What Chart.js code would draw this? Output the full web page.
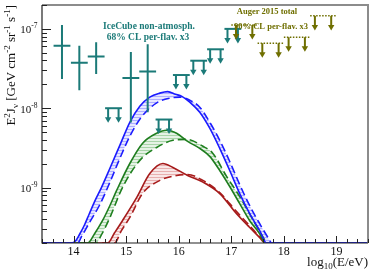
<!DOCTYPE html>
<html>
<head>
<meta charset="utf-8">
<script src="https://cdn.jsdelivr.net/npm/chart.js@4.4.1/dist/chart.umd.min.js"></script>
<style>
  html, body { margin: 0; padding: 0; background: #fff; }
  #wrap { width: 374px; height: 278px; position: relative; }
</style>
</head>
<body>
<div id="wrap"><canvas id="c"></canvas></div>
<script>
// axis ranges: x = log10(E/eV), y = E^2 J [GeV cm^-2 sr^-1 s^-1]
const xMin = 13.4, xMax = 19.6;
const yMin = 2e-10, yMax = 2e-7;

// model curves (solid / dashed pairs)
const blueSolidX = [13.4, 13.96, 14.04, 14.11, 14.21, 14.3, 14.4, 14.53, 14.69, 14.88, 15.07, 15.26, 15.45, 15.64, 15.79, 15.94, 16.06, 16.21, 16.4, 16.59, 16.78, 16.97, 17.16, 17.35, 17.54, 17.67, 19.6];
const blueSolidY = [2e-10, 2e-10, 2.13e-10, 2.54e-10, 3.4e-10, 4.68e-10, 6.65e-10, 1.0e-9, 1.74e-9, 3.4e-9, 6.65e-9, 1.06e-8, 1.38e-8, 1.55e-8, 1.62e-8, 1.5e-8, 1.41e-8, 1.19e-8, 8.9e-9, 5.6e-9, 3.12e-9, 1.64e-9, 8.4e-10, 4.68e-10, 2.86e-10, 2e-10, 2e-10];
const blueDashX = [13.4, 14.08, 14.15, 14.3, 14.5, 14.69, 14.88, 15.07, 15.26, 15.45, 15.64, 15.83, 16.02, 16.21, 16.4, 16.59, 16.78, 16.97, 17.16, 17.35, 17.54, 17.7, 17.77, 19.6];
const blueDashY = [2e-10, 2e-10, 2.4e-10, 3.6e-10, 6.1e-10, 1.16e-9, 2.33e-9, 4.43e-9, 7.26e-9, 1.0e-8, 1.23e-8, 1.34e-8, 1.38e-8, 1.26e-8, 1.03e-8, 6.65e-9, 3.94e-9, 2.13e-9, 1.09e-9, 5.9e-10, 3.5e-10, 2.33e-10, 2e-10, 2e-10];

const greenSolidX = [13.4, 14.27, 14.4, 14.55, 14.69, 14.82, 15.07, 15.31, 15.58, 15.77, 15.96, 16.17, 16.4, 16.59, 16.78, 16.97, 17.16, 17.35, 17.54, 17.64, 19.6];
const greenSolidY = [2e-10, 2e-10, 2.62e-10, 3.82e-10, 5.9e-10, 9.2e-10, 2.01e-9, 3.6e-9, 4.83e-9, 5.27e-9, 4.83e-9, 3.82e-9, 3.12e-9, 2.47e-9, 1.64e-9, 1.03e-9, 6.27e-10, 3.82e-10, 2.62e-10, 2e-10, 2e-10];
const greenDashX = [13.4, 14.42, 14.55, 14.69, 14.93, 15.26, 15.58, 15.89, 16.15, 16.46, 16.65, 16.91, 17.16, 17.41, 17.6, 17.68, 19.6];
const greenDashY = [2e-10, 2e-10, 2.69e-10, 4.17e-10, 1.0e-9, 2.2e-9, 3.2e-9, 3.94e-9, 4.05e-9, 3.31e-9, 2.69e-9, 1.38e-9, 7.7e-10, 3.94e-10, 2.4e-10, 2e-10, 2e-10];

const redSolidX = [13.4, 14.65, 14.78, 14.93, 15.2, 15.45, 15.7, 15.89, 16.17, 16.46, 16.78, 17.1, 17.35, 17.54, 17.64, 19.6];
const redSolidY = [2e-10, 2e-10, 2.69e-10, 3.82e-10, 7.46e-10, 1.5e-9, 2.01e-9, 1.79e-9, 1.42e-9, 1.17e-9, 8.4e-10, 4.68e-10, 3.14e-10, 2.34e-10, 2e-10, 2e-10];
const redDashX = [13.4, 14.78, 14.91, 15.07, 15.31, 15.64, 15.96, 16.17, 16.46, 16.78, 17.1, 17.35, 17.54, 17.7, 19.6];
const redDashY = [2e-10, 2e-10, 2.86e-10, 4.2e-10, 8.4e-10, 1.23e-9, 1.42e-9, 1.46e-9, 1.23e-9, 8.65e-10, 4.97e-10, 3.31e-10, 2.4e-10, 2e-10, 2e-10];

// IceCube non-atmospheric flux points (centre, error bar ends)
const icX = [13.78, 14.11, 14.43, 15.09, 15.41];
const icY = [6.15e-8, 3.74e-8, 4.47e-8, 2.4e-8, 2.9e-8];
const icLo = [2.33e-8, 1.69e-8, 2.69e-8, 6.6e-9, 8.9e-9];
const icHi = [1.12e-7, 6.15e-8, 6.79e-8, 5.1e-8, 6.4e-8];
const icHalf = 0.16;

// IceCube 68% CL upper limits
const icLimX = [14.76, 15.72, 16.05, 16.38, 16.7, 17.03];
const icLimY = [1.0e-8, 7.2e-9, 2.62e-8, 3.97e-8, 5.53e-8, 1.0e-7];

// Auger 2015 90% CL upper limits
const augX = [17.25, 17.75, 18.25, 18.75];
const augY = [1.12e-7, 6.6e-8, 7.85e-8, 1.46e-7];
const augHalf = 0.25;

const xTicks = [14, 15, 16, 17, 18, 19];
const yTicks = [-9, -8, -7];

const BLUE = '#1a1aff', GREEN = '#1e7d1e', RED = '#a51a1a';
const TEAL = '#1b7a78', OLIVE = '#6f6f00';
const SERIF = '"Liberation Serif", "DejaVu Serif", serif';

function hatch(r, g, b) {
  const c = document.createElement('canvas');
  c.width = 4; c.height = 3;
  const x = c.getContext('2d');
  x.fillStyle = `rgba(${r},${g},${b},0.12)`;
  x.fillRect(0, 0, 4, 3);
  x.fillStyle = `rgba(${r},${g},${b},0.32)`;
  x.fillRect(0, 0, 4, 1);
  return x.createPattern(c, 'repeat');
}

const pts = (xs, ys) => xs.map((x, i) => ({ x: x, y: ys[i] }));

function curve(label, xs, ys, color, dashed, bg) {
  return {
    label: label,
    data: pts(xs, ys),
    borderColor: color,
    borderWidth: 1.6,
    borderDash: dashed ? [8, 4] : [],
    pointRadius: 0,
    cubicInterpolationMode: 'monotone',
    fill: bg ? '+1' : false,
    backgroundColor: bg || 'transparent'
  };
}

// text with sub/superscripts: parts = [{t, s, dy}]
function richWidth(ctx, parts, bold) {
  let w = 0;
  parts.forEach(p => { ctx.font = (bold ? 'bold ' : '') + p.s + 'px ' + SERIF; w += ctx.measureText(p.t).width; });
  return w;
}
function drawRich(ctx, parts, x, y, bold) {
  parts.forEach(p => {
    ctx.font = (bold ? 'bold ' : '') + p.s + 'px ' + SERIF;
    ctx.fillText(p.t, x, y + (p.dy || 0));
    x += ctx.measureText(p.t).width;
  });
}

function arrowDown(ctx, px, y0, y1, color) {
  ctx.strokeStyle = color; ctx.fillStyle = color;
  ctx.lineWidth = 2; ctx.setLineDash([]);
  ctx.beginPath(); ctx.moveTo(px, y0); ctx.lineTo(px, y1 - 4); ctx.stroke();
  ctx.beginPath(); ctx.moveTo(px - 3.2, y1 - 5); ctx.lineTo(px + 3.2, y1 - 5); ctx.lineTo(px, y1 + 0.5); ctx.closePath(); ctx.fill();
}

function drawLimits(ctx, xs, ys, xsArr, ysArr, half, color, dotted) {
  const drop = Math.pow(10, -0.177);
  xsArr.forEach((xc, i) => {
    const x0 = xs.getPixelForValue(xc - half), x1 = xs.getPixelForValue(xc + half);
    const py = ys.getPixelForValue(ysArr[i]);
    const pt = ys.getPixelForValue(ysArr[i] * drop);
    ctx.strokeStyle = color; ctx.lineWidth = dotted ? 1.5 : 2;
    ctx.setLineDash(dotted ? [1.5, 1.5] : []);
    ctx.beginPath(); ctx.moveTo(x0, py); ctx.lineTo(x1, py); ctx.stroke();
    ctx.setLineDash([]);
    arrowDown(ctx, x0 + 0.18 * (x1 - x0), py, pt, color);
    arrowDown(ctx, x0 + 0.8 * (x1 - x0), py, pt, color);
  });
}

const markers = {
  id: 'markers',
  afterDatasetsDraw(chart) {
    const ctx = chart.ctx, xs = chart.scales.x, ys = chart.scales.y;
    ctx.save();
    // IceCube crosses
    ctx.strokeStyle = TEAL; ctx.lineWidth = 2;
    icX.forEach((xc, i) => {
      const px = xs.getPixelForValue(xc), py = ys.getPixelForValue(icY[i]);
      ctx.beginPath();
      ctx.moveTo(xs.getPixelForValue(xc - icHalf), py); ctx.lineTo(xs.getPixelForValue(xc + icHalf), py);
      ctx.moveTo(px, ys.getPixelForValue(icHi[i])); ctx.lineTo(px, ys.getPixelForValue(icLo[i]));
      ctx.stroke();
    });
    drawLimits(ctx, xs, ys, icLimX, icLimY, icHalf, TEAL, false);
    drawLimits(ctx, xs, ys, augX, augY, augHalf, OLIVE, true);

    // legends
    ctx.textAlign = 'center'; ctx.textBaseline = 'alphabetic';
    ctx.fillStyle = TEAL; ctx.font = 'bold 9.5px ' + SERIF;
    ctx.fillText('IceCube non-atmosph.', 149, 28.5);
    ctx.fillText('68% CL per-flav. x3', 148, 40);
    ctx.fillStyle = OLIVE; ctx.font = 'bold 8.5px ' + SERIF;
    ctx.fillText('Auger 2015 total', 267, 13.5);
    ctx.fillText('90% CL per-flav. x3', 271, 28.5);
    ctx.restore();
  }
};

const axes = {
  id: 'axes',
  afterDraw(chart) {
    const ctx = chart.ctx, a = chart.chartArea, xs = chart.scales.x, ys = chart.scales.y;
    ctx.save();
    ctx.setLineDash([]);
    // frame
    ctx.strokeStyle = '#8c8c8c'; ctx.lineWidth = 2;
    ctx.beginPath(); ctx.moveTo(a.left, a.top); ctx.lineTo(a.right, a.top); ctx.lineTo(a.right, a.bottom); ctx.stroke();
    ctx.strokeStyle = '#222'; ctx.lineWidth = 1.2;
    ctx.beginPath(); ctx.moveTo(a.left, a.top); ctx.lineTo(a.left, a.bottom); ctx.lineTo(a.right, a.bottom); ctx.stroke();

    // x ticks
    ctx.lineWidth = 1;
    for (let v = 13.4; v <= 19.61; v += 0.2) {
      const r = Math.round(v * 10) / 10;
      const major = Math.abs(r - Math.round(r)) < 1e-6;
      const px = Math.round(xs.getPixelForValue(r)) + 0.5;
      ctx.beginPath(); ctx.moveTo(px, a.bottom); ctx.lineTo(px, a.bottom - (major ? 7 : 4)); ctx.stroke();
    }
    ctx.fillStyle = '#111'; ctx.textAlign = 'center'; ctx.textBaseline = 'alphabetic';
    ctx.font = '12px ' + SERIF;
    xTicks.forEach(t => ctx.fillText(String(t), xs.getPixelForValue(t), a.bottom + 12));

    // y ticks
    for (let e = -10; e <= -7; e++) {
      for (let m = 1; m <= 9; m++) {
        const v = m * Math.pow(10, e);
        if (v < yMin * 0.999 || v > yMax * 1.001) continue;
        const py = Math.round(ys.getPixelForValue(v)) + 0.5;
        ctx.beginPath(); ctx.moveTo(a.left, py); ctx.lineTo(a.left + (m === 1 ? 9 : 5), py); ctx.stroke();
      }
    }
    ctx.textAlign = 'left';
    yTicks.forEach(e => {
      const py = ys.getPixelForValue(Math.pow(10, e));
      const parts = [{ t: '10', s: 11 }, { t: String(e), s: 7.5, dy: -5 }];
      const w = richWidth(ctx, parts, false);
      drawRich(ctx, parts, 37.5 - w, py + 4.5, false);
    });

    // axis titles
    const xt = [{ t: 'log', s: 13 }, { t: '10', s: 9, dy: 3 }, { t: '(E/eV)', s: 13 }];
    drawRich(ctx, xt, a.right - richWidth(ctx, xt, false), 266, false);

    const yt = [{ t: 'E', s: 13 }, { t: '2', s: 9, dy: -5 }, { t: 'J', s: 13 }, { t: '\u03bd', s: 9, dy: 3 },
      { t: ' [GeV cm', s: 13 }, { t: '-2', s: 9, dy: -5 }, { t: ' sr', s: 13 }, { t: '-1', s: 9, dy: -5 },
      { t: ' s', s: 13 }, { t: '-1', s: 9, dy: -5 }, { t: ']', s: 13 }];
    const w = richWidth(ctx, yt, false);
    ctx.translate(15, 5 + w);
    ctx.rotate(-Math.PI / 2);
    drawRich(ctx, yt, 0, 0, false);
    ctx.restore();
  }
};

new Chart(document.getElementById('c'), {
  type: 'line',
  data: {
    datasets: [
      curve('blue', blueSolidX, blueSolidY, BLUE, false, hatch(60, 60, 255)),
      curve('blue dashed', blueDashX, blueDashY, BLUE, true, null),
      curve('green', greenSolidX, greenSolidY, GREEN, false, hatch(40, 150, 40)),
      curve('green dashed', greenDashX, greenDashY, GREEN, true, null),
      curve('red', redSolidX, redSolidY, RED, false, hatch(200, 60, 60)),
      curve('red dashed', redDashX, redDashY, RED, true, null)
    ]
  },
  options: {
    responsive: true,
    maintainAspectRatio: false,
    animation: false,
    layout: { padding: { left: 42, right: 6, top: 5, bottom: 35 } },
    plugins: { legend: { display: false }, tooltip: { enabled: false } },
    scales: {
      x: { type: 'linear', min: xMin, max: xMax, display: false },
      y: { type: 'logarithmic', min: yMin, max: yMax, display: false }
    }
  },
  plugins: [markers, axes]
});
</script>
</body>
</html>
